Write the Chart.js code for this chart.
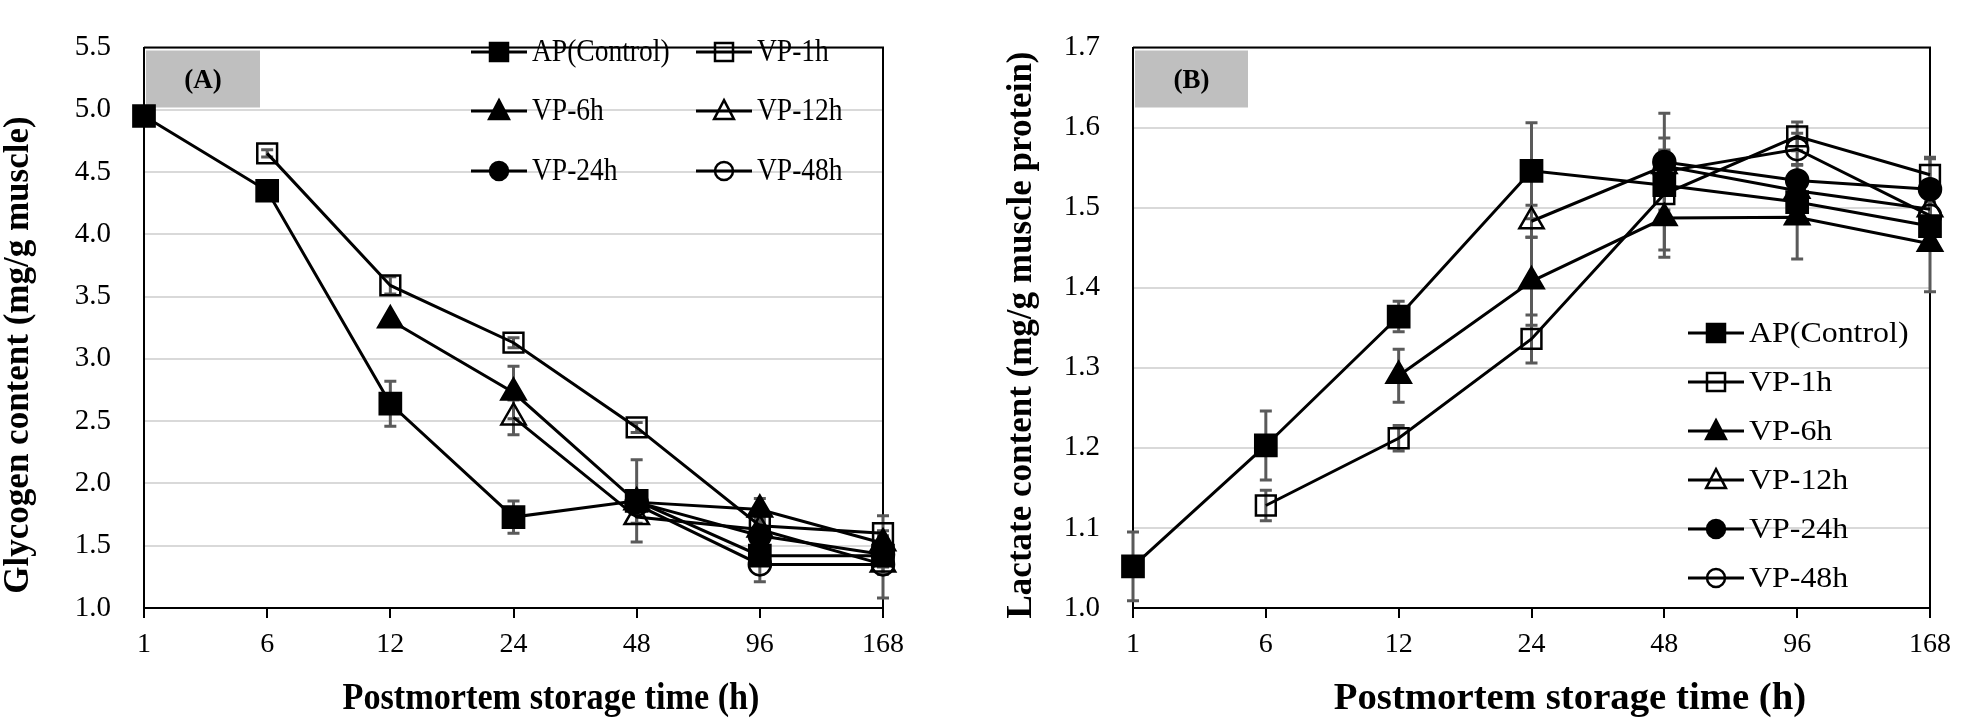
<!DOCTYPE html>
<html><head><meta charset="utf-8">
<script src="https://cdn.jsdelivr.net/npm/chart.js@4.4.1/dist/chart.umd.min.js"></script>
<style>
html,body{margin:0;padding:0;background:#fff;}
#wrap{position:relative;width:1964px;height:726px;overflow:hidden;background:#fff;}
canvas{position:absolute;top:0;}
#cA{left:0;} #cB{left:982px;}
</style></head><body>
<div id="wrap"><canvas id="cA" width="982" height="726"></canvas><canvas id="cB" width="982" height="726"></canvas></div>
<script>
// ---------- data ----------
const categories = ['1', '6', '12', '24', '48', '96', '168'];
const seriesNames = ['AP(Control)', 'VP-1h', 'VP-6h', 'VP-12h', 'VP-24h', 'VP-48h'];

// Panel A: glycogen content (mg/g muscle)
const glyAP   = [4.95, 4.35, 2.64, 1.73, 1.86, 1.42, 1.42];
const glyVP1  = [null, 4.65, 3.59, 3.13, 2.45, 1.66, 1.60];
const glyVP6  = [null, null, 3.31, 2.73, 1.85, 1.79, 1.52];
const glyVP12 = [null, null, null, 2.53, 1.73, 1.63, 1.35];
const glyVP24 = [null, null, null, null, 1.85, 1.58, 1.43];
const glyVP48 = [null, null, null, null, 1.83, 1.35, 1.35];
const glyErrAP   = [0.02, 0.03, 0.18, 0.13, 0.33, 0.05, 0.05];
const glyErrVP1  = [null, 0.03, 0.07, 0.04, 0.04, 0.06, 0.14];
const glyErrVP6  = [null, null, 0.03, 0.21, 0.05, 0.09, 0.06];
const glyErrVP12 = [null, null, null, 0.14, 0.05, 0.05, 0.27];
const glyErrVP24 = [null, null, null, null, 0.05, 0.05, 0.10];
const glyErrVP48 = [null, null, null, null, 0.05, 0.14, 0.08];
const glyTicks = {min: 1.0, max: 5.5, step: 0.5};

// Panel B: lactate content (mg/g muscle protein)
const lacAP   = [1.052, 1.203, 1.364, 1.546, 1.528, 1.507, 1.477];
const lacVP1  = [null, 1.128, 1.212, 1.336, 1.517, 1.589, 1.541];
const lacVP6  = [null, null, 1.290, 1.408, 1.487, 1.488, 1.455];
const lacVP12 = [null, null, null, 1.483, 1.552, 1.521, 1.498];
const lacVP24 = [null, null, null, null, 1.557, 1.534, 1.523];
const lacVP48 = [null, null, null, null, 1.545, 1.573, 1.490];
const lacErrAP   = [0.043, 0.043, 0.019, 0.060, 0.090, 0.020, 0.030];
const lacErrVP1  = [null, 0.019, 0.016, 0.030, 0.020, 0.018, 0.020];
const lacErrVP6  = [null, null, 0.033, 0.055, 0.040, 0.052, 0.060];
const lacErrVP12 = [null, null, null, 0.020, 0.020, 0.020, 0.035];
const lacErrVP24 = [null, null, null, null, 0.030, 0.020, 0.040];
const lacErrVP48 = [null, null, null, null, 0.025, 0.020, 0.030];
const lacTicks = {min: 1.0, max: 1.7, step: 0.1};

// ---------- styles ----------
const markerStyles = [
  {style: 'rect', fill: true, r: 15},
  {style: 'rect', fill: false, r: 14},
  {style: 'triangle', fill: true, r: 14},
  {style: 'triangle', fill: false, r: 14},
  {style: 'circle', fill: true, r: 11},
  {style: 'circle', fill: false, r: 11}
];
const SERIF = '"Liberation Serif", "Times New Roman", serif';

function makeDatasets(values) {
  return values.map((v, i) => {
    const m = markerStyles[i];
    return {
      label: seriesNames[i], data: v,
      borderColor: '#000', borderWidth: 3, tension: 0, clip: false,
      pointStyle: m.style, pointRadius: m.r, pointHoverRadius: m.r,
      pointBackgroundColor: m.fill ? '#000' : 'rgba(0,0,0,0)',
      pointBorderColor: '#000', pointBorderWidth: 2.5
    };
  });
}

function legendMarker(ctx, style, fill, cx, cy, s) {
  ctx.save();
  ctx.beginPath();
  if (style === 'rect') ctx.rect(cx - s / 2, cy - s / 2, s, s);
  else if (style === 'triangle') {
    ctx.moveTo(cx, cy - s * 0.6); ctx.lineTo(cx + s * 0.55, cy + s * 0.45); ctx.lineTo(cx - s * 0.55, cy + s * 0.45); ctx.closePath();
  } else ctx.arc(cx, cy, s / 2, 0, Math.PI * 2);
  ctx.lineWidth = 2.5; ctx.strokeStyle = '#000';
  if (fill) { ctx.fillStyle = '#000'; ctx.fill(); }
  ctx.stroke();
  ctx.restore();
}

// draw text horizontally stretched by factor sx about its anchor
function stretchedText(ctx, txt, x, y, sx) {
  ctx.save();
  ctx.translate(x, y); ctx.scale(sx, 1);
  ctx.fillText(txt, 0, 0);
  ctx.restore();
}

const decor = {
  id: 'decor',
  beforeDatasetsDraw(chart, args, o) {
    const ctx = chart.ctx, a = chart.chartArea;
    ctx.save();
    // top & right frame
    ctx.strokeStyle = '#000'; ctx.lineWidth = 2;
    ctx.beginPath(); ctx.moveTo(a.left, a.top); ctx.lineTo(a.right, a.top); ctx.lineTo(a.right, a.bottom); ctx.stroke();
    // panel tag
    ctx.fillStyle = '#bfbfbf';
    ctx.fillRect(a.left + 2, a.top + 3, o.tagW, 57);
    ctx.fillStyle = '#000'; ctx.font = 'bold 27px ' + SERIF;
    ctx.textAlign = 'center'; ctx.textBaseline = 'middle';
    stretchedText(ctx, o.tag, a.left + 2 + o.tagW / 2, a.top + 34, 1.0);
    // error bars
    ctx.strokeStyle = '#5a5a5a'; ctx.lineWidth = 3;
    o.errors.forEach((errs, i) => {
      const meta = chart.getDatasetMeta(i);
      const vals = chart.data.datasets[i].data;
      const ys = chart.scales.y;
      errs.forEach((e, j) => {
        if (e == null || vals[j] == null) return;
        const x = meta.data[j].x;
        const yt = ys.getPixelForValue(vals[j] + e), yb = ys.getPixelForValue(vals[j] - e);
        ctx.beginPath();
        ctx.moveTo(x, yt); ctx.lineTo(x, yb);
        ctx.moveTo(x - 6, yt); ctx.lineTo(x + 6, yt);
        ctx.moveTo(x - 6, yb); ctx.lineTo(x + 6, yb);
        ctx.stroke();
      });
    });
    ctx.restore();
  },
  afterDraw(chart, args, o) {
    const ctx = chart.ctx;
    ctx.save();
    // legend
    ctx.font = o.legendSize + 'px ' + SERIF; ctx.textBaseline = 'middle'; ctx.textAlign = 'left';
    o.legend.forEach(it => {
      const m = markerStyles[it.i];
      ctx.strokeStyle = '#000'; ctx.lineWidth = 3;
      ctx.beginPath(); ctx.moveTo(it.x, it.y); ctx.lineTo(it.x + 56, it.y); ctx.stroke();
      legendMarker(ctx, m.style, m.fill, it.x + 28, it.y, 18);
      ctx.fillStyle = '#000';
      stretchedText(ctx, seriesNames[it.i], it.x + 61, it.y + 1, o.legendSx);
    });
    // axis titles
    ctx.font = 'bold ' + o.xTitle.size + 'px ' + SERIF; ctx.textAlign = 'center'; ctx.textBaseline = 'middle';
    stretchedText(ctx, o.xTitle.text, o.xTitle.x, o.xTitle.y, o.xTitle.sx);
    ctx.font = 'bold 35px ' + SERIF;
    ctx.translate(o.yTitle.x, o.yTitle.y); ctx.rotate(-Math.PI / 2);
    ctx.fillText(o.yTitle.text, 0, 0);
    ctx.restore();
  }
};

function makeChart(id, values, errors, tk, yW, padRight, opts) {
  return new Chart(document.getElementById(id), {
    type: 'line',
    data: {labels: categories, datasets: makeDatasets(values)},
    options: {
      responsive: false, animation: false, devicePixelRatio: 1,
      layout: {padding: {top: 14, right: padRight, left: 0, bottom: 0}},
      plugins: {legend: {display: false}, tooltip: {enabled: false}, decor: Object.assign({errors}, opts)},
      scales: {
        x: {
          type: 'category', offset: false,
          grid: {drawOnChartArea: false, drawTicks: true, tickLength: 10, color: '#000', lineWidth: 2},
          border: {display: true, color: '#000', width: 2},
          ticks: {autoSkip: false, maxRotation: 0, padding: 13, color: '#000', font: {family: SERIF, size: 28, lineHeight: 1}},
          afterFit: s => { s.height = 118; }
        },
        y: {
          min: tk.min, max: tk.max,
          grid: {drawTicks: false, color: '#d9d9d9', lineWidth: 2},
          border: {display: true, color: '#000', width: 2},
          ticks: {stepSize: tk.step, padding: 33, color: '#000', font: {family: SERIF, size: 29, lineHeight: 1},
                  callback: v => Number(v).toFixed(1)},
          afterFit: s => { s.width = yW; }
        }
      }
    },
    plugins: [decor]
  });
}

makeChart('cA',
  [glyAP, glyVP1, glyVP6, glyVP12, glyVP24, glyVP48],
  [glyErrAP, glyErrVP1, glyErrVP6, glyErrVP12, glyErrVP24, glyErrVP48],
  glyTicks, 144, 99, {
    tag: '(A)', tagW: 114, legendSize: 32, legendSx: 0.86,
    legend: [
      {i: 0, x: 471, y: 52}, {i: 1, x: 696, y: 52},
      {i: 2, x: 471, y: 111}, {i: 3, x: 696, y: 111},
      {i: 4, x: 471, y: 171}, {i: 5, x: 696, y: 171}
    ],
    xTitle: {text: 'Postmortem storage time (h)', x: 551, y: 699, size: 38, sx: 0.9},
    yTitle: {text: 'Glycogen content (mg/g muscle)', x: 19, y: 355}
  });

makeChart('cB',
  [lacAP, lacVP1, lacVP6, lacVP12, lacVP24, lacVP48],
  [lacErrAP, lacErrVP1, lacErrVP6, lacErrVP12, lacErrVP24, lacErrVP48],
  lacTicks, 151, 24, {
    tag: '(B)', tagW: 113, legendSize: 29, legendSx: 1.1,
    legend: [
      {i: 0, x: 706, y: 333}, {i: 1, x: 706, y: 382},
      {i: 2, x: 706, y: 431}, {i: 3, x: 706, y: 480},
      {i: 4, x: 706, y: 529}, {i: 5, x: 706, y: 578}
    ],
    xTitle: {text: 'Postmortem storage time (h)', x: 588, y: 699, size: 38, sx: 1.02},
    yTitle: {text: 'Lactate content (mg/g muscle protein)', x: 40, y: 335}
  });
</script>
</body></html>
